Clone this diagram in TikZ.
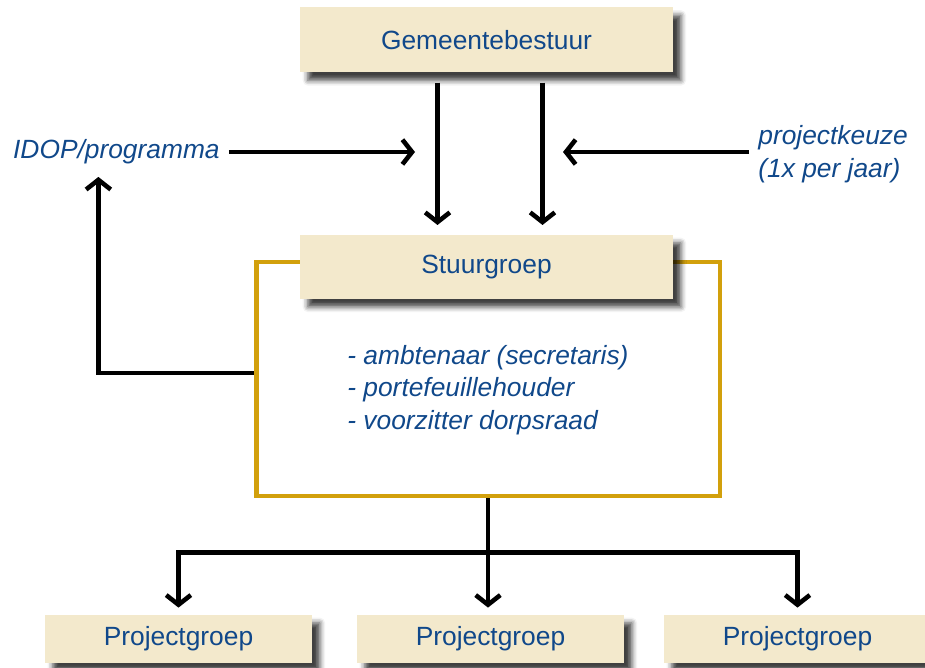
\documentclass[tikz,border=0pt]{standalone}
\usepackage{fontspec}
\setmainfont{Liberation Sans}
\usepackage{tikz}
\usetikzlibrary{arrows.meta,positioning,shadows.blur}
\usetikzlibrary{calc}

\definecolor{vak}{RGB}{243,233,204}
\definecolor{tekst}{RGB}{16,72,138}
\definecolor{goud}{RGB}{210,160,12}

\tikzset{
  blok/.style={fill=vak, text=tekst, font=\fontsize{15}{18}\selectfont,
    blur shadow={shadow xshift=4.5pt, shadow yshift=-4.5pt, shadow blur radius=3pt, shadow opacity=75}},
  pijl/.style={line width=2.6pt, -{Straight Barb[length=5.5pt,width=14pt]}},
  lijn/.style={line width=2.6pt},
  schuin/.style={text=tekst, font=\fontsize{15}{18.5}\selectfont\itshape, inner sep=0pt}
}

\begin{document}
\begin{tikzpicture}[x=0.02cm, y=-0.02cm]
\clip (0,0) rectangle (925,668);

\node[blok, minimum width=7.46cm, minimum height=1.3cm] (gem) at (486.5,40) {Gemeentebestuur};

\node[draw=goud, line width=2.8pt, minimum width=9.28cm, minimum height=4.68cm] (kader) at (488,379) {};
\node[blok, minimum width=7.46cm, minimum height=1.28cm] (stuur) at (486.5,267) {Stuurgroep};

\node[schuin, anchor=west, align=left] (leden) at (347,390)
  {- ambtenaar (secretaris)\\- portefeuillehouder\\- voorzitter dorpsraad};

\node[schuin, anchor=east] (idop) at (220,152) {IDOP/programma};
\node[schuin, anchor=west, align=left] (keuze) at (758,154) {projectkeuze\\(1x per jaar)};

\coordinate (inL) at (415,152);
\coordinate (inR) at (563,152);

\node[blok, minimum width=5.34cm, minimum height=0.96cm] (p1) at (178.5,639) {Projectgroep};
\node[blok, minimum width=5.34cm, minimum height=0.96cm] (p2) at (490.5,639) {Projectgroep};
\node[blok, minimum width=5.34cm, minimum height=0.96cm] (p3) at (797.5,639) {Projectgroep};

\draw[pijl, shorten <=5.5pt, shorten >=5.5pt] ($(gem.south)+(-49,0)$) -- ($(stuur.north)+(-49,0)$);
\draw[pijl, shorten <=5.5pt, shorten >=5.5pt] ($(gem.south)+(56,0)$) -- ($(stuur.north)+(56,0)$);

\draw[pijl, shorten <=5pt] (idop.east) -- (inL);
\draw[pijl, shorten <=5pt] (inR -| keuze.west) -- (inR);

\draw[pijl, shorten >=7pt] ($(kader.west)+(0,-6)$) -| ($(idop.south)+(-18,0)$);

\draw[lijn] (kader.south) -- ++(0,54) coordinate (split);
\draw[pijl, shorten >=4pt] (split) -| (p1.north);
\draw[pijl, shorten >=4pt] (split) -| (p3.north);
\draw[pijl, shorten >=4pt] (split) -- (split |- p2.north);
\end{tikzpicture}
\end{document}
